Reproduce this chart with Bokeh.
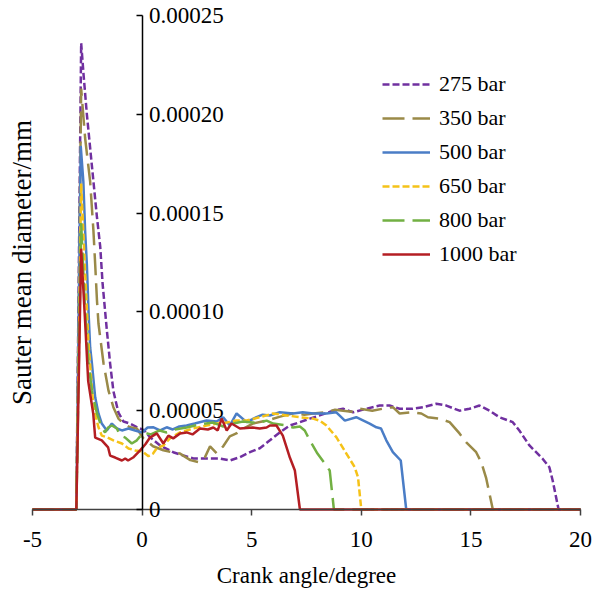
import numpy as np
from bokeh.plotting import figure
from bokeh.models import (Range1d, LinearAxis, FixedTicker, Legend, LegendItem,
                          ColumnDataSource)
from bokeh.embed import file_html
from bokeh.resources import INLINE

FONT = "Liberation Serif"
SCALE = 1e-5  # values below are in units of 1e-5 mm

labels = ["275 bar", "350 bar", "500 bar", "650 bar", "800 bar", "1000 bar"]

x_275 = [-5, -3, -2.78, -2.67, -2.52, -2.37, -2.22, -2.06, -1.91, -1.8, -1.61, -1.46, -1.31,
         -1.08, -0.85, -0.55, -0.2, 0.1, 0.36, 0.82, 1.42, 1.88, 2.34, 2.94, 3.55, 4.0,
         4.46, 4.92, 5.37, 5.83, 6.28, 6.74, 7.2, 7.65, 8.1, 8.71, 9.17, 9.62, 10.23,
         10.84, 11.29, 11.75, 12.35, 12.81, 13.42, 13.88, 14.48, 14.94, 15.39, 15.85,
         16.3, 16.91, 17.21, 17.67, 18.27, 18.58, 18.73, 19.0, 20]
y_275 = [0, 0, 23.6, 22.0, 20.0, 18.3, 16.6, 14.8, 13.3, 11.4, 9.1, 7.4, 6.0,
         4.9, 4.45, 4.35, 4.15, 4.0, 3.66, 3.24, 2.9, 2.73, 2.58, 2.58, 2.58, 2.48,
         2.65, 2.9, 3.1, 3.5, 3.9, 4.25, 4.42, 4.6, 4.76, 5.0, 5.1, 4.92, 5.1,
         5.26, 5.26, 5.1, 5.1, 5.18, 5.35, 5.26, 5.0, 5.1, 5.26, 5.0,
         4.67, 4.42, 4.0, 3.24, 2.57, 2.14, 1.47, 0, 0]

x_350 = [-5, -3, -2.78, -2.6, -2.37, -2.22, -2.14, -2.06, -1.99, -1.76, -1.53, -1.31,
         -1.08, -0.85, -0.55, -0.24, 0.06, 0.5, 0.97, 1.35, 1.73, 2.2, 2.56, 2.87, 3.1,
         3.4, 3.7, 4.0, 4.3, 4.46, 5.05, 5.68, 6.3, 6.89, 7.4, 7.8, 8.41, 8.8, 9.17,
         9.55, 9.93, 10.5, 10.98, 11.44, 11.75, 12.35, 12.74, 13.04, 13.57, 14.03,
         14.48, 14.79, 15.24, 15.47, 15.7, 16.0, 20]
y_350 = [0, 0, 21.3, 18.8, 16.6, 14.1, 12.4, 10.6, 9.4, 7.4, 6.0, 5.18,
         4.6, 4.35, 4.16, 4.1, 3.6, 3.2, 3.0, 2.9, 2.83, 2.5, 2.4, 2.65, 3.2,
         2.85, 3.2, 3.7, 3.85, 4.0, 4.35, 4.5, 4.7, 4.87, 4.8, 4.86, 4.92, 5.05, 5.0,
         4.95, 5.1, 5.0, 5.1, 5.18, 4.86, 4.92, 4.86, 4.67, 4.6, 4.42,
         3.85, 3.4, 2.9, 2.4, 1.57, 0, 0]

x_500 = [-5, -3, -2.8, -2.68, -2.6, -2.52, -2.44, -2.37, -2.29, -2.14, -1.99, -1.84,
         -1.61, -1.38, -1.15, -0.92, -0.62, -0.32, 0, 0.25, 0.52, 0.82, 1.12, 1.4,
         1.7, 2.03, 2.4, 2.94, 3.4, 3.7, 4.0, 4.31, 4.77, 5.22, 5.5, 5.83, 6.28,
         6.89, 7.33, 7.8, 8.41, 8.86, 9.25, 9.77, 10.38, 10.69, 10.9, 11.14, 11.44,
         11.8, 12.05, 20]
y_500 = [0, 0, 18.4, 16.6, 14.1, 12.4, 9.9, 8.2, 7.4, 5.68, 4.86, 4.35,
         4.0, 4.35, 4.1, 4.0, 4.1, 4.0, 3.9, 4.15, 4.16, 4.0, 4.16, 4.05,
         4.2, 4.25, 4.35, 4.5, 4.45, 4.67, 4.25, 4.86, 4.42, 4.67, 4.8, 4.76, 4.92,
         4.86, 4.92, 4.86, 4.86, 4.92, 4.5, 4.67, 4.35, 4.16, 4.1, 3.5, 2.9,
         2.48, 0, 0]

x_650 = [-5, -3, -2.78, -2.6, -2.45, -2.3, -2.22, -1.99, -1.84, -1.61, -1.31, -0.92,
         -0.62, -0.32, 0, 0.29, 0.5, 0.67, 0.97, 1.27, 1.73, 2.33, 2.94, 3.4, 3.86,
         4.3, 4.77, 5.37, 5.98, 6.59, 7.2, 7.8, 8.1, 8.41, 8.86, 9.32, 9.7, 9.85,
         10.0, 20]
y_650 = [0, 0, 16.5, 12.0, 8.5, 6.3, 5.18, 4.16, 3.74, 3.66, 3.5, 3.34,
         3.09, 2.99, 2.95, 2.7, 2.83, 3.1, 3.24, 3.6, 3.9, 4.1, 4.25, 4.35, 4.4,
         4.5, 4.5, 4.67, 4.86, 4.76, 4.67, 4.6, 4.5, 4.25, 3.66, 2.83, 2.14, 1.63,
         0, 0]

x_800 = [-5, -3, -2.78, -2.6, -2.45, -2.29, -2.06, -1.84, -1.69, -1.55, -1.38, -1.15,
         -1.0, -0.77, -0.47, -0.24, 0.05, 0.4, 0.8, 1.12, 1.5, 2.03, 2.6, 3.25, 3.7,
         4.16, 4.6, 5.05, 5.37, 5.68, 5.98, 6.59, 6.89, 7.2, 7.42, 7.65, 8.0, 8.33,
         8.56, 8.75, 20]
y_800 = [0, 0, 14.5, 10.0, 7.5, 6.0, 4.86, 4.15, 3.9, 4.15, 4.25, 4.1,
         3.74, 3.64, 3.34, 3.5, 3.9, 3.8, 4.0, 3.9, 4.05, 4.15, 4.3, 4.4, 4.2,
         4.35, 4.45, 4.4, 4.4, 4.5, 4.35, 4.25, 4.15, 4.2, 4.0, 3.5, 2.83, 2.33,
         1.97, 0, 0]

x_1000 = [-5, -3, -2.78, -2.6, -2.46, -2.23, -2.14, -1.84, -1.55, -1.46, -1.23, -0.92,
          -0.77, -0.64, -0.41, -0.09, 0.15, 0.36, 0.67, 0.97, 1.2, 1.42, 1.73, 2.03,
          2.3, 2.64, 3.0, 3.25, 3.45, 3.63, 3.86, 4.08, 4.46, 5.05, 5.37, 5.68, 5.83,
          6.13, 6.42, 6.74, 6.97, 7.2, 20]
y_1000 = [0, 0, 13.2, 9.5, 6.5, 4.86, 3.64, 3.5, 3.14, 2.73, 2.63, 2.48,
          2.58, 2.48, 2.63, 2.99, 3.3, 3.64, 3.85, 3.34, 3.74, 3.6, 3.85, 3.9,
          3.8, 4.1, 4.05, 4.15, 4.0, 4.6, 4.0, 4.35, 4.1, 4.15, 4.1, 4.15, 4.25,
          4.25, 3.74, 2.63, 1.97, 0, 0]

xs = [x_275, x_350, x_500, x_650, x_800, x_1000]
ys = [y_275, y_350, y_500, y_650, y_800, y_1000]
colors = ["#7030A0", "#9A8A48", "#4A7DC6", "#F5C218", "#72B043", "#B41E23"]
dashes = ["7 3", "22 8", "solid", "7 3", "22 8", "solid"]

x_ticks = [-5, 0, 5, 10, 15, 20]
x_tick_labels = ["-5", "0", "5", "10", "15", "20"]
y_ticks = [0, 0.00005, 0.00010, 0.00015, 0.00020, 0.00025]
y_tick_labels = ["0", "0.00005", "0.00010", "0.00015", "0.00020", "0.00025"]
X_MIN, X_MAX = -5, 20
Y_MIN, Y_MAX = 0, 0.00025
Y_AXIS_AT = 0   # value axis crosses at crank angle 0

# Layout (pixels): the axes box spans 32..580 horizontally, 15..509 vertically,
# in a 603x590 canvas.  The data frame fills the whole canvas so that axis
# labels drawn at fixed locations are not clipped.
W, H = 603, 590
BOX_L, BOX_R, BOX_T, BOX_B = 32, 580, 15, 509
ux = (X_MAX - X_MIN) / (BOX_R - BOX_L)
uy = (Y_MAX - Y_MIN) / (BOX_B - BOX_T)
x_range = Range1d(X_MIN - BOX_L * ux, X_MAX + (W - BOX_R) * ux)
y_range = Range1d(Y_MIN - (H - BOX_B) * uy, Y_MAX + BOX_T * uy)

p = figure(width=W, height=H, output_backend="svg", toolbar_location=None,
           x_range=x_range, y_range=y_range,
           min_border_left=0, min_border_right=0, min_border_top=0,
           min_border_bottom=0, background_fill_color="white",
           border_fill_color="white")
p.outline_line_color = None
p.grid.visible = False

renderers = []
for x, y, c, d in zip(xs, ys, colors, dashes):
    src = ColumnDataSource(dict(x=x, y=np.array(y) * SCALE))
    r = p.line("x", "y", source=src, line_color=c, line_width=2.5, line_dash=d)
    renderers.append(r)

# x axis at y = 0
xa = p.xaxis[0]
xa.fixed_location = Y_MIN
xa.bounds = (X_MIN, X_MAX)
xa.ticker = FixedTicker(ticks=x_ticks)
xa.major_label_overrides = {t: s for t, s in zip(x_ticks, x_tick_labels)}
xa.axis_line_color = "#404040"
xa.axis_line_width = 1.5
xa.major_tick_line_color = "#404040"
xa.major_tick_line_width = 1.5
xa.major_tick_out = 6
xa.major_tick_in = 0
xa.minor_tick_line_color = None
xa.major_label_text_font = FONT
xa.major_label_text_font_size = "23px"
xa.major_label_text_color = "black"
xa.major_label_standoff = 16
xa.axis_label = "Crank angle/degree"
xa.axis_label_text_font = FONT
xa.axis_label_text_font_size = "23px"
xa.axis_label_text_font_style = "normal"
xa.axis_label_text_color = "black"
xa.axis_label_standoff = 13

# left axis at x = -5: only carries the y title
ya = p.yaxis[0]
ya.fixed_location = X_MIN
ya.bounds = (Y_MIN, Y_MAX)
ya.ticker = FixedTicker(ticks=[])
ya.axis_line_color = None
ya.major_tick_line_color = None
ya.minor_tick_line_color = None
ya.major_tick_out = 0
ya.major_label_standoff = 0
ya.axis_label = "Sauter mean diameter/mm"
ya.axis_label_text_font = FONT
ya.axis_label_text_font_size = "27px"
ya.axis_label_text_font_style = "normal"
ya.axis_label_text_color = "black"
ya.axis_label_standoff = -4

# value axis at x = 0: ticks pointing left, labels on its right
yax = LinearAxis(fixed_location=Y_AXIS_AT, bounds=(Y_MIN, Y_MAX),
                 ticker=FixedTicker(ticks=y_ticks),
                 major_label_overrides={t: s for t, s in zip(y_ticks, y_tick_labels)})
yax.axis_line_color = "black"
yax.axis_line_width = 1.5
yax.major_tick_line_color = "black"
yax.major_tick_line_width = 1.5
yax.major_tick_in = 6
yax.major_tick_out = 0
yax.minor_tick_line_color = None
yax.major_label_text_font = FONT
yax.major_label_text_font_size = "23px"
yax.major_label_text_color = "black"
yax.major_label_standoff = 7
p.add_layout(yax, "right")

legend = Legend(items=[LegendItem(label=l, renderers=[r]) for l, r in zip(labels, renderers)],
                location=(382, 323))
legend.border_line_color = None
legend.background_fill_alpha = 0
legend.label_text_font = FONT
legend.label_text_font_size = "22px"
legend.label_text_color = "black"
legend.glyph_width = 48
legend.glyph_height = 24
legend.label_height = 24
legend.spacing = 8
legend.padding = 0
legend.margin = 0
legend.label_standoff = 9
p.add_layout(legend)

open("out.html", "w").write(file_html(p, INLINE))
